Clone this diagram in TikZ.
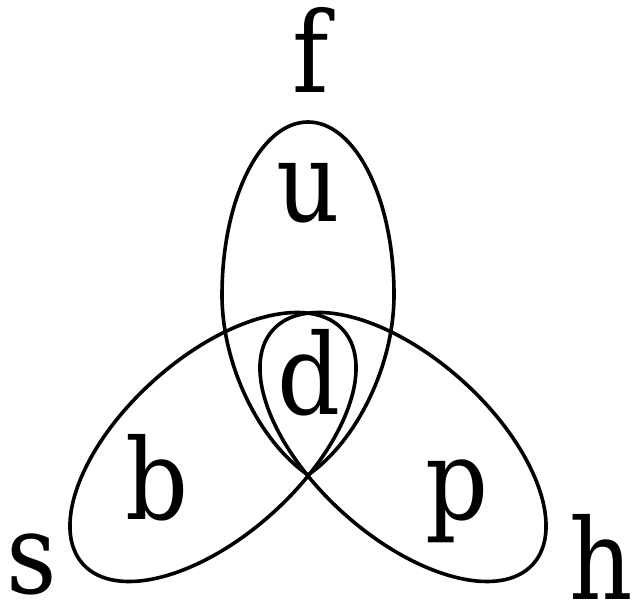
\documentclass[tikz,border=0pt]{standalone}
\usepackage{fontspec}
\setmainfont{DejaVu Serif}[FakeStretch=0.88]
\begin{document}
\begin{tikzpicture}[x=0.5pt,y=0.5pt,
  curve/.style={line width=1.8pt, black},
  lab/.style={inner sep=0pt, anchor=base, font=\fontsize{56}{60}\selectfont}]
\useasboundingbox (0,0) rectangle (636,608);
% key points
\coordinate (O) at (308,133);
\coordinate (L) at (222,313);
\coordinate (T) at (308,486);
\coordinate (R) at (394,313);
\coordinate (CL) at (213,161);
\coordinate (CR) at (403,161);
% top petal (teardrop)
\draw[curve] (O) .. controls (259,167) and (222,243) .. (L)
  .. controls (222,410) and (261,486) .. (T)
  .. controls (355,486) and (394,410) .. (R)
  .. controls (394,243) and (357,167) .. (O);
% left and right ellipses
\draw[curve, rotate around={42:(CL)}] (CL) ellipse [x radius=87.5pt, y radius=44.5pt];
\draw[curve, rotate around={-42:(CR)}] (CR) ellipse [x radius=87.5pt, y radius=44.5pt];
% labels
\node[lab] (f) at (311,515) {f};
\node[lab] (u) at (308,386) {u};
\node[lab] (d) at (309,193) {d};
\node[lab] (b) at (157,88) {b};
\node[lab] (p) at (457,88) {p};
\node[lab] (s) at (32,14) {s};
\node[lab] (h) at (601,8) {h};
\end{tikzpicture}
\end{document}
